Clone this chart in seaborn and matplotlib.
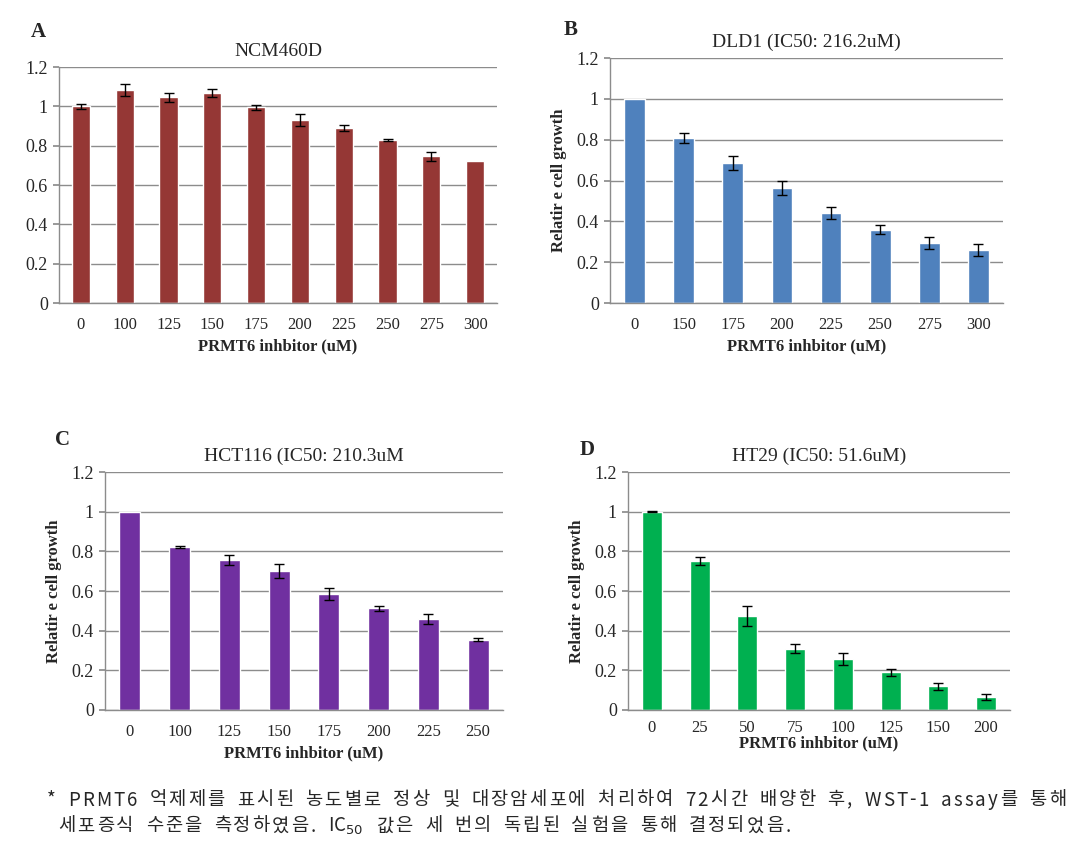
import matplotlib
matplotlib.use("Agg")
import matplotlib.pyplot as plt
import numpy as np
import pandas as pd
import seaborn as sns

# panel A: NCM460D
a_dose = ["0", "100", "125", "150", "175", "200", "225", "250", "275", "300"]
a_growth = [1.00, 1.085, 1.045, 1.07, 0.995, 0.93, 0.89, 0.828, 0.745, 0.72]
a_err = [0.012, 0.03, 0.025, 0.02, 0.012, 0.03, 0.015, 0.005, 0.025, 0.0]

# panel B: DLD1
b_dose = ["0", "150", "175", "200", "225", "250", "275", "300"]
b_growth = [1.00, 0.81, 0.685, 0.565, 0.44, 0.36, 0.295, 0.258]
b_err = [0.0, 0.025, 0.035, 0.035, 0.03, 0.02, 0.03, 0.03]

# panel C: HCT116
c_dose = ["0", "100", "125", "150", "175", "200", "225", "250"]
c_growth = [1.00, 0.82, 0.757, 0.70, 0.583, 0.513, 0.457, 0.355]
c_err = [0.0, 0.005, 0.025, 0.035, 0.03, 0.012, 0.025, 0.008]

# panel D: HT29
d_dose = ["0", "25", "50", "75", "100", "125", "150", "200"]
d_growth = [1.00, 0.75, 0.475, 0.31, 0.255, 0.19, 0.12, 0.065]
d_err = [0.002, 0.02, 0.05, 0.025, 0.03, 0.018, 0.018, 0.015]

yticks = [0, 0.2, 0.4, 0.6, 0.8, 1.0, 1.2]
ytick_labels = ["0", "0.2", "0.4", "0.6", "0.8", "1", "1.2"]

note_line1 = "* PRMT6 억제제를 표시된 농도별로 정상 및 대장암세포에 처리하여 72시간 배양한 후, WST-1 assay를 통해"
note_line2 = "세포증식 수준을 측정하였음. IC$_{50}$ 값은 세 번의 독립된 실험을 통해 결정되었음."

sns.set_theme(style="white")
plt.rcParams["font.family"] = ["Liberation Serif", "DejaVu Serif"]

W, H = 1090, 852
fig = plt.figure(figsize=(W / 100, H / 100), dpi=100)


def px_axes(left, top, right, bottom):
    return fig.add_axes([left / W, 1 - bottom / H, (right - left) / W, (bottom - top) / H])


def panel(box, dose, growth, err, color, title, letter, letter_xy, ylabel,
          tick_pad=10, xlabel_pad=4):
    ax = px_axes(*box)
    df = pd.DataFrame({"dose": dose, "growth": growth})
    sns.barplot(data=df, x="dose", y="growth", color=color, saturation=1,
                width=0.42, ax=ax, zorder=2)
    idx = [i for i, e in enumerate(err) if e > 0]
    ax.errorbar(idx, [growth[i] for i in idx], yerr=[err[i] for i in idx], fmt="none",
                ecolor="black", elinewidth=1, capsize=3.5, capthick=1, zorder=3)
    ax.set_ylim(0, 1.2)
    ax.set_xlim(-0.5, len(dose) - 0.5)
    ax.set_yticks(yticks)
    ax.set_yticklabels(ytick_labels, fontsize=13)
    ax.yaxis.grid(True, color="#8c8c8c", linewidth=1)
    ax.set_axisbelow(True)
    for s in ["top", "right"]:
        ax.spines[s].set_visible(False)
    for s in ["left", "bottom"]:
        ax.spines[s].set_color("#8c8c8c")
        ax.spines[s].set_linewidth(1)
    ax.tick_params(axis="x", which="major", length=0, labelsize=12, pad=tick_pad)
    ax.set_xticks(np.arange(-0.5, len(dose)), minor=True)
    ax.tick_params(axis="x", which="minor", length=5, color="#8c8c8c", direction="out")
    ax.tick_params(axis="y", length=4, color="#8c8c8c", direction="out", left=True, pad=4)
    ax.set_xlabel("PRMT6 inhbitor (uM)", fontsize=12, fontweight="bold", labelpad=xlabel_pad)
    if ylabel:
        ax.set_ylabel("Relatir e cell growth", fontsize=12, fontweight="bold", labelpad=7)
    else:
        ax.set_ylabel("")
    ax.set_title(title, fontsize=14, pad=8)
    fig.text(letter_xy[0] / W, 1 - letter_xy[1] / H, letter, fontsize=15,
             fontweight="bold", ha="left", va="center")
    return ax


panel((59, 67, 497, 303), a_dose, a_growth, a_err, "#953735",
      "NCM460D", "A", (31, 32), False)
panel((610, 58, 1003, 303), b_dose, b_growth, b_err, "#4F81BD",
      "DLD1 (IC50: 216.2uM)", "B", (564, 30), True)
panel((105, 472, 503, 710), c_dose, c_growth, c_err, "#7030A0",
      "HCT116 (IC50: 210.3uM", "C", (55, 440), True)
panel((628, 472, 1010, 710), d_dose, d_growth, d_err, "#00B050",
      "HT29 (IC50: 51.6uM)", "D", (580, 450), True, tick_pad=7, xlabel_pad=0)

# footnote: letter-spaced like the original (wide Korean font)
note_font = ["Noto Sans CJK KR", "DejaVu Sans"]
note_size = 13.5
space_px = 8
renderer = fig.canvas.get_renderer()


def tokens(line):
    out = []
    for w in line.split(" "):
        if "$" in w:
            out.append(w)
        else:
            out.extend(list(w))
        out.append(" ")
    return out[:-1]


def place_line(line, x0, y, track=None, x1=None):
    toks = tokens(line)
    items = []
    for t in toks:
        if t == " ":
            items.append((None, 0.0))
        else:
            txt = fig.text(0, 1 - y / H, t, fontsize=note_size, family=note_font,
                           va="center", ha="left")
            items.append((txt, txt.get_window_extent(renderer).width))
    n_chars = sum(1 for t, _ in items if t is not None)
    n_spaces = len(items) - n_chars
    if track is None:
        total = sum(w for _, w in items) + n_spaces * space_px
        track = (x1 - x0 - total) / (len(items) - 1)
    x = x0
    for t, w in items:
        if t is None:
            x += space_px + track
        else:
            t.set_x(x / W)
            x += w + track
    return track


tr = place_line(note_line1, 47, 800, x1=1066)
place_line(note_line2, 58, 826, track=tr)

fig.savefig("out.png", dpi=100)
